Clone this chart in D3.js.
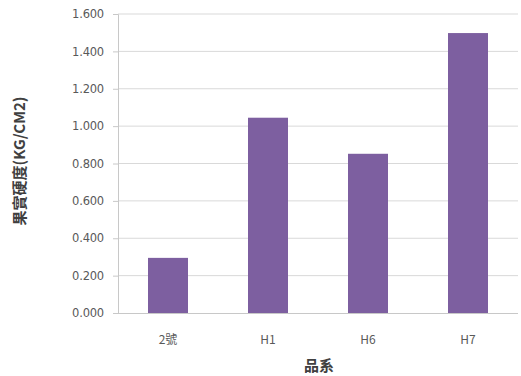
<!DOCTYPE html>
<html>
<head>
<meta charset="utf-8">
<script src="https://cdn.jsdelivr.net/npm/d3@7"></script>
<style>
  html, body { margin: 0; padding: 0; background: #fff; }
  svg { display: block; }
  text { font-family: "Noto Sans CJK TC", "Noto Sans", sans-serif; }
</style>
</head>
<body>
<svg id="chart" width="521" height="376"></svg>
<script>
// Fruit firmness by cultivar line
const categories = ["2號", "H1", "H6", "H7"];
const firmness = [0.295, 1.045, 0.852, 1.498];
const yTicks = [0, 0.2, 0.4, 0.6, 0.8, 1.0, 1.2, 1.4, 1.6];

const svg = d3.select("#chart");
const margin = { left: 118, right: 3, top: 14, bottom: 63 };
const width = 521 - margin.left - margin.right;
const height = 376 - margin.top - margin.bottom;

const x = d3.scaleBand()
  .domain(categories)
  .range([0, width])
  .paddingInner(0.6)
  .paddingOuter(0.3);

const y = d3.scaleLinear()
  .domain([0, 1.6])
  .range([height, 0]);

const g = svg.append("g").attr("transform", `translate(${margin.left},${margin.top})`);

// Horizontal gridlines
g.append("g")
  .selectAll("line")
  .data(yTicks.slice(1))
  .join("line")
  .attr("x1", 0).attr("x2", width)
  .attr("y1", d => y(d)).attr("y2", d => y(d))
  .attr("stroke", "#d9d9d9")
  .attr("stroke-width", 1);

// Bars
g.append("g")
  .selectAll("rect")
  .data(categories.map((c, i) => ({ c, v: firmness[i] })))
  .join("rect")
  .attr("x", d => x(d.c))
  .attr("width", x.bandwidth())
  .attr("y", d => y(d.v))
  .attr("height", d => y(0) - y(d.v))
  .attr("fill", "#7d5fa0");

// Y axis
const yAxis = g.append("g")
  .call(d3.axisLeft(y).tickValues(yTicks).tickFormat(d3.format(".3f")).tickSize(5).tickPadding(9));
yAxis.select(".domain").attr("stroke", "#c8c8c8");
yAxis.selectAll(".tick line").attr("stroke", "#c8c8c8");
yAxis.selectAll(".tick text").attr("fill", "#595959").style("font-size", "11.5px")
  .style("font-family", "'DejaVu Sans', sans-serif").style("letter-spacing", "-0.2px");

// X axis
const xAxis = g.append("g")
  .attr("transform", `translate(0,${height})`)
  .call(d3.axisBottom(x).tickSize(0).tickPadding(22));
xAxis.select(".domain").attr("stroke", "#c8c8c8").attr("d", `M0,0.5H${width}`);
xAxis.selectAll(".tick text").attr("fill", "#595959").style("font-size", "12px");

// Axis titles
svg.append("text")
  .attr("transform", `translate(21,161) rotate(-90)`)
  .attr("text-anchor", "middle")
  .attr("dominant-baseline", "middle")
  .attr("fill", "#404040")
  .style("font-size", "15px")
  .style("font-weight", "bold")
  .text("果實硬度(KG/CM2)");

svg.append("text")
  .attr("x", 319)
  .attr("y", 371)
  .attr("text-anchor", "middle")
  .attr("fill", "#404040")
  .style("font-size", "15px")
  .style("font-weight", "bold")
  .text("品系");
</script>
</body>
</html>
